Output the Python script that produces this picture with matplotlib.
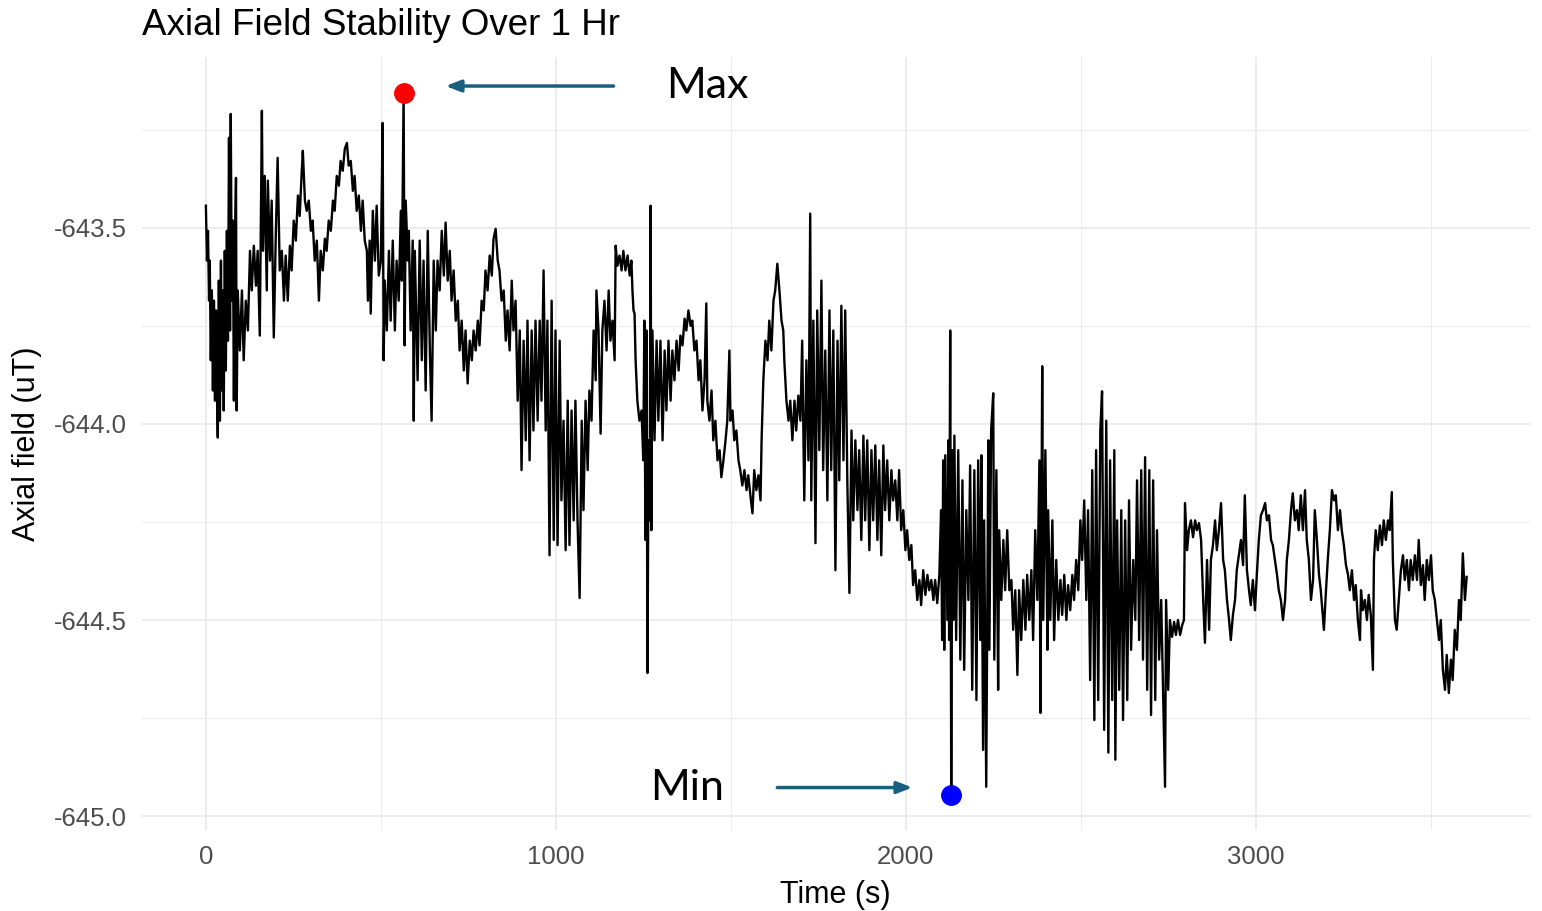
import numpy as np
import matplotlib
matplotlib.use("Agg")
import matplotlib.pyplot as plt

# time (s) and axial field (uT)
time_s = [
    0, 3, 6, 9, 11, 14, 17, 20, 23, 26, 29, 31, 34, 37, 40, 43, 46, 49, 51, 54,
    57, 60, 63, 66, 69, 71, 74, 77, 80, 83, 86, 88, 91, 97, 103, 108, 114, 120, 126, 131,
    137, 143, 148, 154, 160, 163, 168, 174, 177, 183, 188, 194, 200, 205, 211, 217, 223, 228, 234, 240,
    245, 251, 257, 263, 268, 274, 277, 283, 288, 294, 300, 305, 311, 317, 323, 328, 334, 340, 345, 351,
    357, 363, 368, 374, 380, 385, 391, 397, 403, 408, 414, 420, 425, 431, 437, 443, 448, 454, 460, 463,
    468, 471, 477, 483, 488, 494, 500, 505, 508, 511, 517, 523, 528, 534, 540, 545, 551, 557, 560, 565,
    568, 571, 577, 580, 585, 591, 594, 597, 605, 611, 617, 622, 628, 634, 640, 645, 651, 657, 662, 668,
    674, 680, 685, 691, 697, 702, 708, 714, 720, 725, 731, 737, 742, 748, 754, 760, 765, 771, 777, 782,
    788, 794, 799, 805, 811, 817, 822, 828, 834, 839, 845, 851, 857, 862, 868, 874, 879, 885, 891, 897,
    902, 908, 914, 919, 925, 931, 936, 942, 948, 954, 959, 965, 971, 976, 982, 988, 994, 999, 1005, 1011,
    1016, 1022, 1028, 1034, 1039, 1045, 1051, 1056, 1062, 1068, 1074, 1079, 1085, 1091, 1096, 1102, 1108, 1114, 1116, 1122,
    1128, 1133, 1139, 1145, 1151, 1156, 1162, 1168, 1171, 1176, 1182, 1188, 1193, 1199, 1205, 1211, 1216, 1219, 1222, 1225,
    1228, 1233, 1239, 1245, 1250, 1253, 1256, 1259, 1262, 1265, 1268, 1271, 1273, 1276, 1282, 1288, 1293, 1299, 1305, 1311,
    1316, 1322, 1328, 1333, 1339, 1345, 1351, 1356, 1362, 1368, 1373, 1379, 1385, 1390, 1396, 1402, 1408, 1413, 1419, 1425,
    1430, 1433, 1439, 1445, 1450, 1456, 1462, 1468, 1473, 1479, 1485, 1490, 1496, 1499, 1505, 1510, 1516, 1522, 1527, 1533,
    1539, 1545, 1550, 1556, 1562, 1567, 1573, 1579, 1585, 1588, 1593, 1599, 1605, 1610, 1616, 1622, 1627, 1633, 1639, 1645,
    1650, 1653, 1659, 1665, 1670, 1676, 1682, 1687, 1693, 1699, 1704, 1710, 1716, 1722, 1727, 1730, 1736, 1742, 1747, 1753,
    1759, 1764, 1770, 1776, 1782, 1787, 1793, 1799, 1805, 1810, 1816, 1822, 1827, 1833, 1839, 1845, 1850, 1856, 1862, 1867,
    1873, 1879, 1884, 1890, 1896, 1902, 1907, 1913, 1919, 1924, 1930, 1936, 1941, 1947, 1953, 1959, 1964, 1970, 1976, 1981,
    1987, 1993, 1999, 2004, 2010, 2016, 2021, 2027, 2033, 2039, 2044, 2050, 2056, 2062, 2067, 2073, 2079, 2084, 2090, 2096,
    2101, 2104, 2107, 2110, 2113, 2119, 2122, 2124, 2127, 2130, 2133, 2136, 2139, 2144, 2150, 2156, 2162, 2167, 2173, 2179,
    2184, 2190, 2196, 2202, 2207, 2213, 2216, 2221, 2224, 2230, 2236, 2239, 2244, 2250, 2253, 2259, 2264, 2267, 2273, 2279,
    2284, 2290, 2296, 2302, 2307, 2313, 2319, 2324, 2330, 2336, 2342, 2347, 2353, 2359, 2364, 2370, 2376, 2382, 2385, 2390,
    2393, 2399, 2405, 2407, 2413, 2419, 2424, 2430, 2436, 2442, 2447, 2453, 2459, 2464, 2470, 2476, 2481, 2487, 2493, 2499,
    2504, 2510, 2516, 2521, 2527, 2533, 2539, 2544, 2550, 2556, 2561, 2567, 2573, 2579, 2584, 2590, 2596, 2599, 2604, 2610,
    2616, 2621, 2627, 2633, 2638, 2644, 2650, 2656, 2661, 2667, 2673, 2678, 2684, 2690, 2696, 2701, 2707, 2713, 2718, 2724,
    2730, 2736, 2741, 2744, 2750, 2755, 2761, 2767, 2772, 2778, 2784, 2790, 2795, 2798, 2804, 2809, 2815, 2821, 2827, 2832,
    2838, 2844, 2850, 2855, 2861, 2867, 2872, 2878, 2884, 2889, 2895, 2901, 2907, 2912, 2918, 2924, 2929, 2935, 2941, 2946,
    2952, 2958, 2964, 2969, 2975, 2981, 2986, 2992, 2998, 3004, 3009, 3015, 3021, 3027, 3032, 3038, 3044, 3049, 3055, 3061,
    3066, 3072, 3078, 3084, 3089, 3095, 3101, 3106, 3112, 3118, 3123, 3129, 3135, 3141, 3146, 3152, 3158, 3164, 3169, 3175,
    3181, 3186, 3195, 3201, 3206, 3212, 3218, 3224, 3229, 3235, 3241, 3246, 3252, 3258, 3264, 3269, 3275, 3281, 3286, 3292,
    3298, 3301, 3306, 3312, 3318, 3323, 3329, 3335, 3338, 3343, 3349, 3355, 3361, 3366, 3372, 3378, 3383, 3389, 3392, 3398,
    3403, 3409, 3415, 3421, 3426, 3432, 3438, 3443, 3449, 3455, 3461, 3466, 3472, 3478, 3483, 3489, 3495, 3501, 3506, 3512,
    3518, 3524, 3529, 3535, 3541, 3546, 3552, 3558, 3563, 3569, 3575, 3581, 3586, 3592, 3598, 3603,
]

field_ut = [
    -643.444, -643.584, -643.508, -643.686, -643.584, -643.838, -643.660, -643.915, -643.686, -643.941,
    -643.711, -643.889, -644.035, -643.635, -643.992, -643.584, -643.915, -643.660, -643.966, -643.559,
    -643.864, -643.508, -643.788, -643.271, -643.762, -643.210, -643.686, -643.482, -643.941, -643.533,
    -643.373, -643.966, -643.660, -643.813, -643.660, -643.838, -643.686, -643.762, -643.559, -643.660,
    -643.546, -643.648, -643.559, -643.775, -643.202, -643.559, -643.368, -643.660, -643.380, -643.584,
    -643.431, -643.780, -643.508, -643.322, -643.609, -643.559, -643.686, -643.571, -643.686, -643.546,
    -643.609, -643.482, -643.533, -643.418, -643.470, -643.355, -643.304, -643.431, -643.457, -643.431,
    -643.508, -643.482, -643.584, -643.533, -643.686, -643.559, -643.609, -643.528, -643.559, -643.482,
    -643.508, -643.431, -643.457, -643.368, -643.393, -643.330, -643.355, -643.299, -643.284, -643.342,
    -643.330, -643.406, -643.368, -643.457, -643.418, -643.508, -643.431, -643.533, -643.559, -643.686,
    -643.533, -643.719, -643.457, -643.584, -643.444, -643.622, -643.584, -643.233, -643.838, -643.635,
    -643.762, -643.559, -643.737, -643.533, -643.762, -643.584, -643.686, -643.457, -643.635, -643.156,
    -643.800, -643.431, -643.584, -643.508, -643.762, -643.533, -643.992, -643.559, -643.889, -643.533,
    -643.838, -643.584, -643.915, -643.508, -643.813, -643.992, -643.584, -643.762, -643.584, -643.660,
    -643.508, -643.622, -643.487, -643.635, -643.559, -643.686, -643.609, -643.737, -643.686, -643.813,
    -643.737, -643.864, -643.762, -643.897, -643.788, -643.838, -643.762, -643.813, -643.737, -643.800,
    -643.686, -643.711, -643.609, -643.660, -643.571, -643.622, -643.528, -643.503, -643.584, -643.609,
    -643.686, -643.660, -643.788, -643.711, -643.813, -643.635, -643.762, -643.686, -643.941, -643.762,
    -644.118, -643.788, -644.042, -643.737, -644.093, -643.762, -644.017, -643.737, -643.992, -643.737,
    -643.941, -643.609, -644.017, -643.737, -644.335, -643.686, -644.296, -643.762, -644.309, -643.788,
    -644.195, -643.992, -644.322, -643.941, -644.309, -643.966, -644.246, -643.941, -644.246, -644.444,
    -643.992, -644.220, -643.941, -644.118, -643.915, -643.992, -643.762, -643.889, -643.660, -643.762,
    -644.025, -643.762, -643.686, -643.813, -643.660, -643.788, -643.737, -643.838, -643.546, -643.597,
    -643.571, -643.609, -643.559, -643.609, -643.571, -643.622, -643.584, -643.660, -643.711, -643.719,
    -643.838, -643.941, -643.992, -643.966, -644.093, -643.737, -644.296, -643.762, -644.635, -644.042,
    -644.246, -643.444, -644.271, -643.762, -644.042, -643.788, -643.992, -643.788, -644.042, -643.813,
    -643.966, -643.788, -643.941, -643.813, -643.889, -643.788, -643.864, -643.775, -643.800, -643.732,
    -643.762, -643.711, -643.750, -643.737, -643.813, -643.788, -643.889, -643.838, -643.966, -643.889,
    -643.693, -643.941, -643.992, -643.915, -644.042, -643.992, -644.093, -644.067, -644.136, -644.093,
    -644.042, -643.992, -643.813, -643.992, -643.966, -644.042, -644.017, -644.093, -644.118, -644.157,
    -644.118, -644.169, -644.131, -644.182, -644.228, -644.118, -644.169, -644.131, -644.195, -644.042,
    -643.889, -643.788, -643.838, -643.737, -643.813, -643.686, -643.660, -643.592, -643.660, -643.737,
    -643.762, -643.838, -643.941, -643.992, -643.941, -644.042, -643.941, -644.017, -643.928, -643.992,
    -643.788, -644.195, -643.838, -644.093, -643.464, -644.195, -643.737, -644.304, -643.711, -644.067,
    -643.635, -644.118, -643.813, -644.195, -643.711, -644.118, -643.762, -644.373, -643.788, -644.144,
    -643.699, -644.093, -643.711, -644.144, -644.431, -644.017, -644.246, -644.042, -644.220, -644.067,
    -644.296, -644.030, -644.246, -644.042, -644.322, -644.067, -644.246, -644.055, -644.296, -644.093,
    -644.335, -644.055, -644.220, -644.093, -644.246, -644.118, -644.195, -644.144, -644.246, -644.118,
    -644.271, -644.220, -644.322, -644.271, -644.347, -644.309, -644.411, -644.373, -644.449, -644.398,
    -644.462, -644.373, -644.436, -644.385, -644.424, -644.398, -644.449, -644.398, -644.457, -644.385,
    -644.220, -644.551, -644.093, -644.576, -644.080, -644.500, -644.042, -644.551, -643.762, -644.945,
    -644.067, -644.500, -644.030, -644.551, -644.067, -644.601, -644.144, -644.627, -644.220, -644.449,
    -644.106, -644.678, -644.118, -644.704, -644.093, -644.551, -644.080, -644.831, -644.246, -644.925,
    -644.042, -644.576, -644.017, -643.922, -644.601, -644.118, -644.678, -644.271, -644.449, -644.296,
    -644.424, -644.271, -644.424, -644.398, -644.525, -644.424, -644.640, -644.424, -644.551, -644.398,
    -644.525, -644.385, -644.500, -644.373, -644.551, -644.271, -644.449, -644.093, -644.737, -643.853,
    -644.500, -644.067, -644.576, -644.220, -644.500, -644.246, -644.551, -644.347, -644.500, -644.398,
    -644.487, -644.385, -644.500, -644.411, -644.475, -644.385, -644.449, -644.347, -644.424, -644.246,
    -644.347, -644.195, -644.449, -644.220, -644.653, -644.118, -644.755, -644.067, -644.704, -644.017,
    -643.917, -644.780, -643.992, -644.838, -644.093, -644.704, -644.067, -644.856, -644.246, -644.678,
    -644.220, -644.755, -644.246, -644.704, -644.195, -644.576, -644.347, -644.500, -644.144, -644.551,
    -644.118, -644.601, -644.085, -644.678, -644.118, -644.742, -644.144, -644.704, -644.271, -644.601,
    -644.449, -644.704, -644.925, -644.449, -644.678, -644.500, -644.543, -644.505, -644.538, -644.500,
    -644.538, -644.513, -644.500, -644.202, -644.322, -644.271, -644.246, -644.289, -644.246, -644.271,
    -644.253, -644.296, -644.449, -644.558, -644.347, -644.525, -644.347, -644.309, -644.246, -644.322,
    -644.271, -644.202, -644.347, -644.373, -644.449, -644.500, -644.551, -644.487, -644.449, -644.373,
    -644.335, -644.296, -644.360, -644.182, -644.373, -644.424, -644.462, -644.398, -644.475, -644.373,
    -644.296, -644.233, -644.220, -644.202, -644.246, -644.233, -644.296, -644.309, -644.347, -644.385,
    -644.424, -644.449, -644.500, -644.449, -644.347, -644.296, -644.220, -644.177, -644.246, -644.220,
    -644.271, -644.182, -644.271, -644.169, -644.296, -644.347, -644.449, -644.398, -644.220, -644.296,
    -644.385, -644.424, -644.525, -644.424, -644.347, -644.271, -644.169, -644.195, -644.182, -644.271,
    -644.220, -644.271, -644.309, -644.360, -644.385, -644.424, -644.373, -644.449, -644.411, -644.500,
    -644.551, -644.424, -644.475, -644.449, -644.500, -644.436, -644.487, -644.627, -644.347, -644.271,
    -644.322, -644.259, -644.309, -644.246, -644.296, -644.246, -644.271, -644.174, -644.347, -644.500,
    -644.525, -644.449, -644.373, -644.335, -644.398, -644.347, -644.424, -644.347, -644.398, -644.335,
    -644.398, -644.296, -644.411, -644.360, -644.449, -644.347, -644.398, -644.335, -644.424, -644.449,
    -644.500, -644.551, -644.500, -644.627, -644.678, -644.589, -644.686, -644.601, -644.653, -644.525,
    -644.576, -644.449, -644.500, -644.330, -644.449, -644.390,
]

t = np.array(time_s, dtype=float)
y = np.array(field_ut)
i_max = np.argmax(y)
i_min = np.argmin(y)

plt.rcParams['font.family'] = ['Liberation Sans', 'DejaVu Sans']

fig = plt.figure(figsize=(15.42, 9.11), dpi=100)
ax = fig.add_axes([0.092, 0.089, 0.9, 0.848])

ax.plot(t, y, color='black', lw=1.7, zorder=3)
ax.plot(t[i_max], y[i_max], 'o', color='red', ms=14, zorder=4)
ax.plot(t[i_min], y[i_min], 'o', color='blue', ms=14, zorder=4)

# arrows and labels for the extremes
arrow_col = '#1a5e80'
ax.annotate('', xy=(t[i_max] + 112, y[i_max] + 0.017), xytext=(t[i_max] + 608, y[i_max] + 0.017),
            arrowprops=dict(arrowstyle='-|>,head_length=0.9,head_width=0.35', color=arrow_col, lw=2.5))
ax.text(1316, y[i_max] + 0.017, 'Max', fontsize=31, family='Lato', va='center', ha='left')
ax.annotate('', xy=(t[i_min] - 103, y[i_min] + 0.018), xytext=(t[i_min] - 505, y[i_min] + 0.018),
            arrowprops=dict(arrowstyle='-|>,head_length=0.9,head_width=0.35', color=arrow_col, lw=2.5))
ax.text(1270, y[i_min] + 0.018, 'Min', fontsize=31, family='Lato', va='center', ha='left')

ax.set_xlim(-183, 3783)
ax.set_ylim(-645.035, -643.066)
ax.set_xticks([0, 1000, 2000, 3000])
ax.set_xticks([500, 1500, 2500, 3500], minor=True)
ax.set_yticks([-645.0, -644.5, -644.0, -643.5])
ax.set_yticks([-644.75, -644.25, -643.75, -643.25], minor=True)
ax.set_yticklabels(['-645.0', '-644.5', '-644.0', '-643.5'])
ax.grid(which='major', color='#ebebeb', lw=1.3)
ax.grid(which='minor', color='#ebebeb', lw=0.7)
ax.set_axisbelow(True)
for s in ax.spines.values():
    s.set_visible(False)
ax.tick_params(which='both', length=0, labelsize=18.5, labelcolor='#4d4d4d', pad=11)

ax.set_xlabel('Time (s)', fontsize=22, labelpad=8)
ax.set_ylabel('Axial field (uT)', fontsize=22, labelpad=8)
ax.set_title('Axial Field Stability Over 1 Hr', fontsize=26.5, loc='left', x=-0.0, pad=16)

fig.savefig('out.png', dpi=100)
